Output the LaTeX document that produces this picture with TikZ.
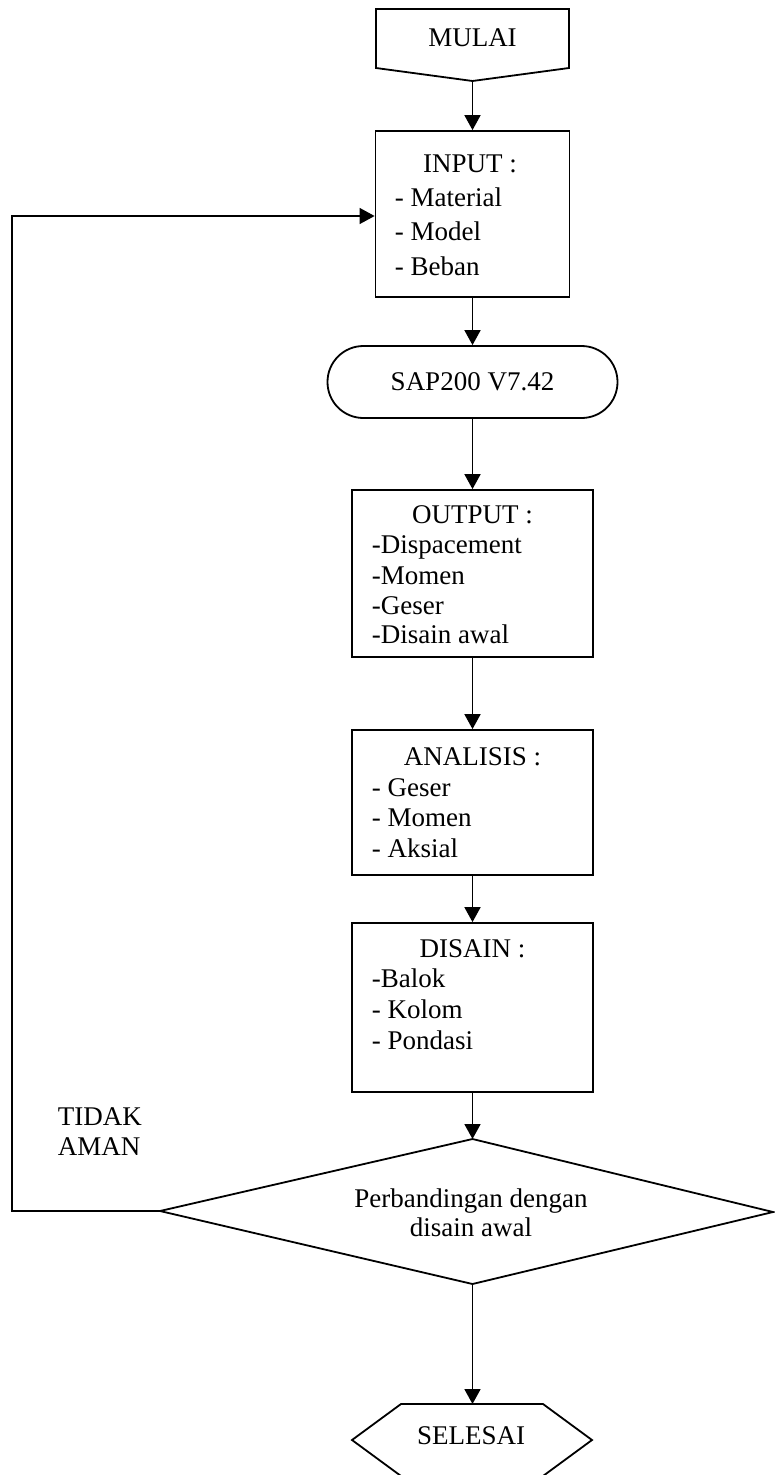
\documentclass[tikz,border=0pt]{standalone}
\usepackage{fontspec}
\setmainfont{Liberation Serif}
\usetikzlibrary{arrows.meta}
\begin{document}
\begin{tikzpicture}[x=1pt,y=-1pt, line width=1.8pt,
  box/.style={draw, rectangle, inner sep=0pt, minimum width=241pt},
  ttl/.style={anchor=base, inner sep=0pt, font=\fontsize{27}{32}\selectfont},
  itm/.style={anchor=base west, inner sep=0pt, font=\fontsize{27}{32}\selectfont},
  arr/.style={-{Triangle[length=15pt,width=16pt]}, line width=1.8pt},
  loopline/.style={line width=1.3pt}]
\useasboundingbox (0,0) rectangle (774,1475);

% MULAI
\coordinate (m1) at (376,9);
\coordinate (m2) at (569,9);
\coordinate (m3) at (569,68);
\coordinate (mtip) at (472.5,81);
\coordinate (m5) at (376,68);
\draw (m1) -- (m2) -- (m3) -- (mtip) -- (m5) -- cycle;
\node[ttl] (mulai) at (472.5,46) {MULAI};

% INPUT
\node[box, minimum width=194pt, minimum height=166pt] (input) at (472.5,214) {};
\node[ttl] (inputt) at (470,172) {INPUT :};
\node[itm] (in1) at (394,206) {- Material};
\node[itm] (in2) at (394,240.5) {- Model};
\node[itm] (in3) at (394,275) {- Beban};

% SAP
\node[draw, rectangle, rounded corners=35.9pt, inner sep=0pt, minimum width=290pt, minimum height=72pt] (sap) at (472.5,382) {};
\node[ttl] (sapt) at (472.5,390) {SAP200 V7.42};

% OUTPUT
\node[box, minimum height=167pt] (output) at (472.5,573.5) {};
\node[ttl] (outputt) at (472.5,523) {OUTPUT :};
\node[itm] (o1) at (371,553.5) {-Dispacement};
\node[itm] (o2) at (371,584) {-Momen};
\node[itm] (o3) at (371,614) {-Geser};
\node[itm] (o4) at (371,643) {-Disain awal};

% ANALISIS
\node[box, minimum height=145pt] (analisis) at (472.5,802.5) {};
\node[ttl] (analisist) at (472.5,765) {ANALISIS :};
\node[itm] (a1) at (371,796) {- Geser};
\node[itm] (a2) at (371,826) {- Momen};
\node[itm] (a3) at (371,857) {- Aksial};

% DISAIN
\node[box, minimum height=169pt] (disain) at (472.5,1007.5) {};
\node[ttl] (disaint) at (472.5,957) {DISAIN :};
\node[itm] (d1) at (371,987) {-Balok};
\node[itm] (d2) at (371,1018) {- Kolom};
\node[itm] (d3) at (371,1049) {- Pondasi};

% Diamond
\coordinate (dtop) at (472.5,1139);
\coordinate (dright) at (773,1212);
\coordinate (dbot) at (472.5,1284);
\coordinate (dleft) at (160,1211);
\draw (dtop) -- (dright) -- (dbot) -- (dleft) -- cycle;
\node[ttl] (dt1) at (471,1207) {Perbandingan dengan};
\node[ttl] (dt2) at (471,1236) {disain awal};

% SELESAI
\coordinate (stop) at (472.5,1404);
\coordinate (s1) at (401,1404);
\coordinate (s2) at (543,1404);
\coordinate (s3) at (592,1440);
\coordinate (s4) at (543,1476);
\coordinate (s5) at (401,1476);
\coordinate (s6) at (352,1440);
\draw (s1) -- (s2) -- (s3) -- (s4) -- (s5) -- (s6) -- cycle;
\node[ttl] (selesai) at (471,1444) {SELESAI};

% TIDAK AMAN
\node[itm] (tidak) at (57,1125) {TIDAK};
\node[itm] (aman) at (57,1155) {AMAN};

% connectors
\draw[arr] (mtip) -- (input.north);
\draw[arr] (input.south) -- (sap.north);
\draw[arr] (sap.south) -- (output.north);
\draw[arr] (output.south) -- (analisis.north);
\draw[arr] (analisis.south) -- (disain.north);
\draw[arr] (disain.south) -- (dtop);
\draw[arr] (dbot) -- (stop);

\coordinate (fb1) at (12,1211);
\coordinate (fb2) at (12,216);
\draw[arr, loopline] (dleft) -- (fb1) -- (fb2) -- (fb2 -| input.west);
\end{tikzpicture}
\end{document}
